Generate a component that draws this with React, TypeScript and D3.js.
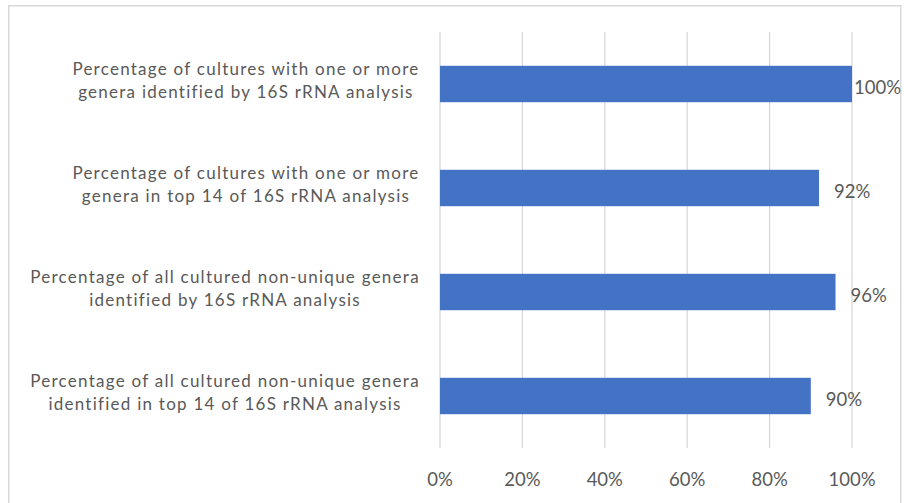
import React from "react";
import * as d3 from "d3";

// Share of cultures / genera recovered by 16S rRNA analysis
const categories: string[][] = [
  ["Percentage of cultures with one or more", "genera identified by 16S rRNA analysis"],
  ["Percentage of cultures with one or more", "genera in top 14 of 16S rRNA analysis"],
  ["Percentage of all cultured non-unique genera", "identified by 16S rRNA analysis"],
  ["Percentage of all cultured non-unique genera", "identified in top 14 of 16S rRNA analysis"],
];
const values: number[] = [1.0, 0.92, 0.96, 0.9];
const tickValues: number[] = [0, 0.2, 0.4, 0.6, 0.8, 1.0];

const W = 904;
const H = 503;
const plot = { left: 440, right: 852, top: 32, bottom: 448 };
const textColor = "#595959";
const gridColor = "#d9d9d9";
const barColor = "#4472C4";
const font = "Lato, 'Open Sans', sans-serif";
const catSize = 17;
const catSpacing = 1.25;
const numSize = 18.5;

function measure(text: string, size: number, spacing: number): number {
  const c = document.createElement("canvas").getContext("2d");
  if (!c) return text.length * size * 0.5;
  c.font = `${size}px Lato`;
  return c.measureText(text).width + spacing * text.length;
}

export default function App() {
  const x = d3.scaleLinear().domain([0, 1]).range([plot.left, plot.right]);
  const y = d3
    .scaleBand<number>()
    .domain(d3.range(categories.length))
    .range([plot.top, plot.bottom])
    .paddingInner(0.65)
    .paddingOuter(0.325);
  const band = (plot.bottom - plot.top) / categories.length;
  const fmt = d3.format(".0%");
  const labelRight = 420;

  return (
    <svg
      width={W}
      height={H}
      style={{ position: "absolute", left: 0, top: 0, background: "#fff" }}
    >
      <rect x={8.75} y={5.75} width={892} height={520} fill="#fff" stroke={gridColor} strokeWidth={1.5} />

      {tickValues.map((t) => (
        <line
          key={`g${t}`}
          x1={x(t)}
          x2={x(t)}
          y1={plot.top}
          y2={plot.bottom}
          stroke={gridColor}
          strokeWidth={1.3}
        />
      ))}

      {values.map((v, i) => (
        <rect
          key={`b${i}`}
          x={x(0)}
          y={y(i)!}
          width={x(v) - x(0)}
          height={y.bandwidth()}
          fill={barColor}
        />
      ))}

      {values.map((v, i) => {
        const lx = Math.min(x(v) + 15, 854);
        return (
          <text
            key={`v${i}`}
            x={lx}
            y={y(i)! + y.bandwidth() / 2 + 9.5}
            fontFamily={font}
            fontSize={numSize}
            fill={textColor}
          >
            {fmt(v)}
          </text>
        );
      })}

      {categories.map((lines, i) => {
        const widths = lines.map((l) => measure(l, catSize, catSpacing));
        const maxW = Math.max(...widths);
        const cx = labelRight - maxW / 2;
        const cy = plot.top + band * i + band / 2;
        const lh = 23;
        return (
          <text
            key={`c${i}`}
            textAnchor="middle"
            fontFamily={font}
            fontSize={catSize}
            letterSpacing={catSpacing}
            fill={textColor}
          >
            {lines.map((l, j) => (
              <tspan key={j} x={cx} y={cy + (j - (lines.length - 1) / 2) * lh + 2.5}>
                {l}
              </tspan>
            ))}
          </text>
        );
      })}

      {tickValues.map((t) => (
        <text
          key={`t${t}`}
          x={x(t)}
          y={485.5}
          textAnchor="middle"
          fontFamily={font}
          fontSize={numSize}
          fill={textColor}
        >
          {fmt(t)}
        </text>
      ))}
    </svg>
  );
}
